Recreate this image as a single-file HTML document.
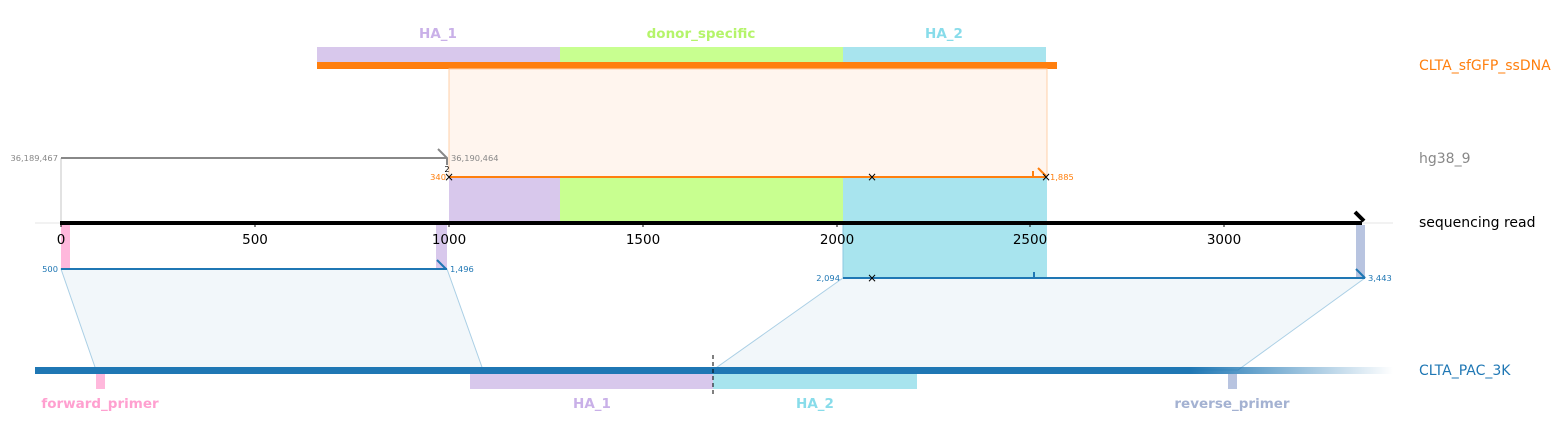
<!DOCTYPE html>
<html><head><meta charset="utf-8"><style>
html,body{margin:0;padding:0;background:#fff;}
svg{display:block;font-family:"DejaVu Sans","Liberation Sans",sans-serif;}
</style></head><body>
<svg width="1563" height="437" viewBox="0 0 1563 437" xmlns="http://www.w3.org/2000/svg">
<defs>
<linearGradient id="fade" x1="35" x2="1393" gradientUnits="userSpaceOnUse">
<stop offset="0" stop-color="#1f77b4"/><stop offset="0.85" stop-color="#1f77b4"/><stop offset="1" stop-color="#1f77b4" stop-opacity="0"/>
</linearGradient>
</defs>
<rect x="317" y="47" width="243" height="16" fill="#d8c8ec"/>
<rect x="560" y="47" width="283" height="16" fill="#c8ff90"/>
<rect x="843" y="47" width="203" height="16" fill="#a8e4ee"/>
<rect x="317" y="62" width="740" height="7" fill="#ff7f0e"/>
<g font-size="13.5" font-weight="bold" text-anchor="middle">
<text x="438" y="38" fill="#c9b0e8">HA_1</text>
<text x="701" y="38" fill="#b5f46a">donor_specific</text>
<text x="944" y="38" fill="#88dcea">HA_2</text>
</g>
<rect x="449" y="69" width="598" height="108" fill="#fff5ee" stroke="#ffd0a8" stroke-width="1"/>
<line x1="61" y1="158" x2="61" y2="223" stroke="#d8d8d8" stroke-width="1.5"/>
<line x1="61" y1="158" x2="447" y2="158" stroke="#888" stroke-width="2"/>
<polyline points="438,149 447,158 447,165" fill="none" stroke="#888" stroke-width="2"/>
<text x="58" y="161" font-size="8.3" fill="#888" text-anchor="end">36,189,467</text>
<text x="451" y="161" font-size="8.3" fill="#888">36,190,464</text>
<rect x="449" y="177" width="111" height="46" fill="#d8c8ec"/>
<rect x="560" y="177" width="283" height="46" fill="#c8ff90"/>
<rect x="843" y="177" width="204" height="46" fill="#a8e4ee"/>
<line x1="449" y1="177" x2="1046" y2="177" stroke="#ff7f0e" stroke-width="2"/>
<line x1="1033" y1="171" x2="1033" y2="177" stroke="#ff7f0e" stroke-width="2"/>
<line x1="1038" y1="168" x2="1046" y2="176" stroke="#ff7f0e" stroke-width="2"/>
<text x="446" y="180" font-size="8.3" fill="#ff7f0e" text-anchor="end">340</text>
<text x="1050" y="180" font-size="8.3" fill="#ff7f0e">1,885</text>
<line x1="35" y1="223" x2="1393" y2="223" stroke="#e6e6e6" stroke-width="1"/>
<rect x="61" y="225" width="9" height="44" fill="#ffb8dc"/>
<rect x="436" y="225" width="11" height="44" fill="#d8c8ec"/>
<polygon points="61,269 447,269 483,370 96,370" fill="#f2f7fa" stroke="#aacfe5" stroke-width="1"/>
<polygon points="843,278 1365,278 1238,370 713,370" fill="#f2f7fa" stroke="#aacfe5" stroke-width="1"/>
<rect x="843" y="223" width="204" height="55" fill="#a8e4ee"/>
<rect x="1356" y="225" width="9" height="53" fill="#b8c4e0"/>
<line x1="843" y1="225" x2="843" y2="278" stroke="#8cc8e0" stroke-width="1"/>
<line x1="61" y1="269" x2="447" y2="269" stroke="#1f77b4" stroke-width="2"/>
<line x1="437" y1="260" x2="446" y2="269" stroke="#1f77b4" stroke-width="2"/>
<line x1="843" y1="278" x2="1365" y2="278" stroke="#1f77b4" stroke-width="2"/>
<line x1="1034" y1="272" x2="1034" y2="278" stroke="#1f77b4" stroke-width="2"/>
<line x1="1356" y1="269" x2="1365" y2="278" stroke="#1f77b4" stroke-width="2"/>
<g font-size="8.3" fill="#1f77b4">
<text x="58" y="272" text-anchor="end">500</text>
<text x="450" y="272">1,496</text>
<text x="840" y="281" text-anchor="end">2,094</text>
<text x="1368" y="281">3,443</text>
</g>
<line x1="60" y1="223" x2="1362" y2="223" stroke="#000" stroke-width="4"/>
<polyline points="1355,212 1364,221" fill="none" stroke="#000" stroke-width="4"/>
<g stroke="#000" stroke-width="1">
<line x1="61" y1="223" x2="61" y2="227"/><line x1="255" y1="223" x2="255" y2="227"/><line x1="449" y1="223" x2="449" y2="227"/><line x1="643" y1="223" x2="643" y2="227"/><line x1="837" y1="223" x2="837" y2="227"/><line x1="1030" y1="223" x2="1030" y2="227"/><line x1="1224" y1="223" x2="1224" y2="227"/>
</g>
<g font-size="13.5" fill="#000" text-anchor="middle">
<text x="61" y="244">0</text><text x="255" y="244">500</text><text x="449" y="244">1000</text><text x="643" y="244">1500</text><text x="837" y="244">2000</text><text x="1030" y="244">2500</text><text x="1224" y="244">3000</text>
</g>
<text x="447" y="172" font-size="8.3" fill="#000" text-anchor="middle">2</text>
<g font-size="12" fill="#000" text-anchor="middle">
<text x="449" y="181">×</text><text x="872" y="181">×</text><text x="1046" y="181">×</text>
<text x="872" y="282">×</text>
</g>
<rect x="35" y="367" width="1358" height="7" fill="url(#fade)"/>
<rect x="96" y="374" width="9" height="15" fill="#ffb8dc"/>
<rect x="470" y="374" width="243" height="15" fill="#d8c8ec"/>
<rect x="713" y="374" width="204" height="15" fill="#a8e4ee"/>
<rect x="1228" y="374" width="9" height="15" fill="#b8c4e0"/>
<line x1="713" y1="355" x2="713" y2="395" stroke="#000" stroke-width="1" stroke-dasharray="4,3"/>
<g font-size="13.5" font-weight="bold" text-anchor="middle">
<text x="100" y="408" fill="#ffa0d0">forward_primer</text>
<text x="592" y="408" fill="#c9b0e8">HA_1</text>
<text x="815" y="408" fill="#88dcea">HA_2</text>
<text x="1232" y="408" fill="#a4b2d2">reverse_primer</text>
</g>
<g font-size="14">
<text x="1419" y="70" fill="#ff7f0e">CLTA_sfGFP_ssDNA</text>
<text x="1419" y="163" fill="#888">hg38_9</text>
<text x="1419" y="227" fill="#000">sequencing read</text>
<text x="1419" y="375" fill="#1f77b4">CLTA_PAC_3K</text>
</g>
</svg>
</body></html>
